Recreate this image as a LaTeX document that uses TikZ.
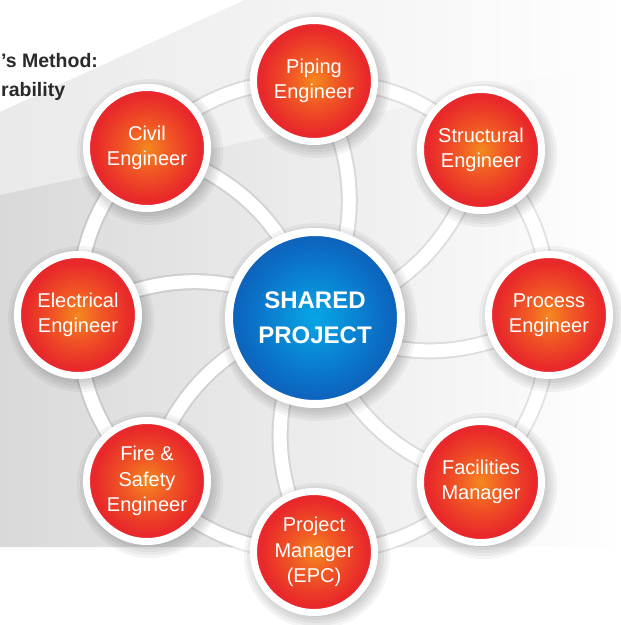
\documentclass[tikz,border=0pt]{standalone}
\usepackage{fontspec}
\setmainfont{Liberation Sans}
\usetikzlibrary{backgrounds}

\definecolor{ballorange}{HTML}{F4891F}
\definecolor{ballmid}{HTML}{F15A24}
\definecolor{ballred}{HTML}{E8282A}
\definecolor{balldeep}{HTML}{D21E26}
\definecolor{hubcyan}{HTML}{07A6E6}
\definecolor{hubblue}{HTML}{0B6CC4}
\definecolor{hubnavy}{HTML}{1B3D92}
\definecolor{titlegray}{HTML}{2B2A2A}

\pgfdeclareradialshading{redball}{\pgfpoint{0bp}{0bp}}{%
  color(0bp)=(ballorange); color(9bp)=(ballmid); color(22bp)=(ballred); color(40bp)=(ballred); color(50bp)=(balldeep)}
\pgfdeclareradialshading{blueball}{\pgfpoint{0bp}{0bp}}{%
  color(0bp)=(hubcyan); color(20bp)=(hubblue); color(40bp)=(hubnavy); color(50bp)=(hubnavy)}

\pgfdeclarelayer{backdrop}
\pgfdeclarelayer{shade}
\pgfsetlayers{backdrop,background,shade,main}

\tikzset{
  member/.style={circle, minimum size=121pt, inner sep=0pt, draw=white, line width=7pt,
    shading=redball, text=white, align=center, font=\fontsize{20}{25.5}\selectfont},
  hub/.style={circle, minimum size=172pt, inner sep=0pt, draw=white, line width=8pt,
    shading=blueball, text=white, align=center, font=\bfseries\fontsize{24}{35}\selectfont},
  band/.style={draw=white, line width=13pt},
  bandshadow/.style={draw=black, opacity=.09, line width=17pt, shift={(2,3)}},
  heading/.style={anchor=base west, inner sep=0pt, text=titlegray, font=\bfseries\fontsize{19.5}{28}\selectfont}
}

% soft shadow under a circle: node name, outer radius
\newcommand\castshadow[2]{%
  \foreach \r in {-3,0,3,6,9}
    {\fill[black, opacity=.045] ([shift={(3,4)}]#1.center) circle[radius=#2+\r];}}

\begin{document}
\begin{tikzpicture}[x=1pt,y=1pt,yscale=-1,xscale=1]
\useasboundingbox (0,0) rectangle (621,625);

%Shape: Backdrop
\begin{pgfonlayer}{backdrop}
\fill[white] (0,0) rectangle (621,625);
\shade[left color=gray!30, right color=white] (0,547) -- (0,112) -- (245,0) -- (621,0) -- (621,547) -- cycle;
\fill[white, opacity=.45] (0,112) -- (245,0) -- (621,0) -- (621,60) -- (0,195) -- cycle;
\end{pgfonlayer}

% Text Node
\node[heading] (title1) at (1,67) {’s Method:};
% Text Node
\node[heading] (title2) at (1,96) {rability};

%Shape: Circles
\node[hub] (hub) at (315,318) {SHARED\\PROJECT};
\node[member] (piping) at (314,81) {Piping\\Engineer};
\node[member] (structural) at (481,150) {Structural\\Engineer};
\node[member] (process) at (549,315) {Process\\Engineer};
\node[member] (facilities) at (481,482) {Facilities\\Manager};
\node[member] (manager) at (314,552) {Project\\Manager\\(EPC)};
\node[member] (fire) at (147,481) {Fire \&\\Safety\\Engineer};
\node[member] (electrical) at (78,315) {Electrical\\Engineer};
\node[member] (civil) at (147,148) {Civil\\Engineer};

%Shape: Shadows
\begin{pgfonlayer}{shade}
\castshadow{hub}{90}
\foreach \b in {piping, structural, process, facilities, manager, fire, electrical, civil}
  {\castshadow{\b}{64}}
\end{pgfonlayer}

%Curve Lines: ring and spokes
\begin{pgfonlayer}{background}
\foreach \a/\b in {process/structural, structural/piping, piping/civil, civil/electrical,
  electrical/fire, fire/manager, manager/facilities, facilities/process}
  \draw[bandshadow] (\a.center) to[bend left=22.5] (\b.center);
\foreach \b in {piping, structural, process, facilities, manager, fire, electrical, civil}
  \draw[bandshadow] (hub.center) to[bend left=30] (\b.center);
\foreach \a/\b in {process/structural, structural/piping, piping/civil, civil/electrical,
  electrical/fire, fire/manager, manager/facilities, facilities/process}
  \draw[band] (\a.center) to[bend left=22.5] (\b.center);
\foreach \b in {piping, structural, process, facilities, manager, fire, electrical, civil}
  \draw[band] (hub.center) to[bend left=30] (\b.center);
\end{pgfonlayer}

\end{tikzpicture}
\end{document}
